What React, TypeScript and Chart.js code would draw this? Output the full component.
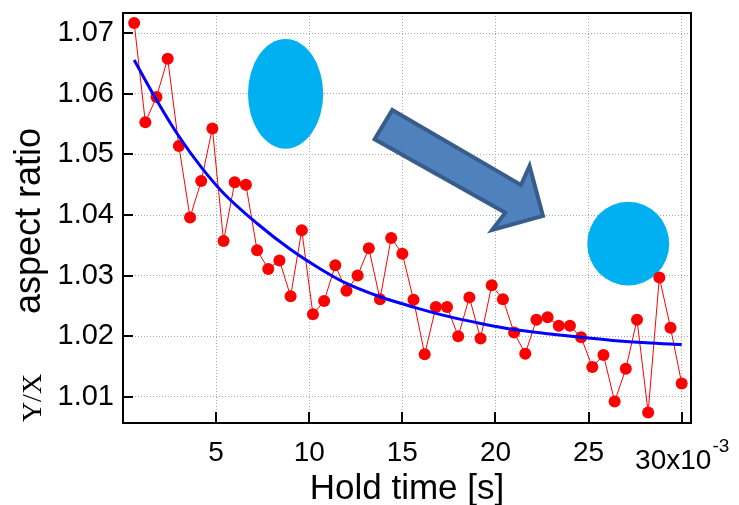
import React, { useEffect, useRef } from 'react';
import { Chart, registerables } from 'chart.js';

Chart.register(...registerables);

// ---------- data ----------
const holdTime = [
  0.6, 1.2, 1.8, 2.4, 3.0, 3.6, 4.2, 4.8, 5.4, 6.0,
  6.6, 7.2, 7.8, 8.4, 9.0, 9.6, 10.2, 10.8, 11.4, 12.0,
  12.6, 13.2, 13.8, 14.4, 15.0, 15.6, 16.2, 16.8, 17.4, 18.0,
  18.6, 19.2, 19.8, 20.4, 21.0, 21.6, 22.2, 22.8, 23.4, 24.0,
  24.6, 25.2, 25.8, 26.4, 27.0, 27.6, 28.2, 28.8, 29.4, 30.0,
];
const aspectRatio = [
  1.0717, 1.0553, 1.0595, 1.0658, 1.0514, 1.0396, 1.0456, 1.0543, 1.0357, 1.0454,
  1.045, 1.0342, 1.0311, 1.0325, 1.0266, 1.0375, 1.0236, 1.0258, 1.0317, 1.0275,
  1.03, 1.0345, 1.0261, 1.0362, 1.0336, 1.026, 1.017, 1.0248, 1.0248, 1.02,
  1.0264, 1.0196, 1.0284, 1.0261, 1.0206, 1.0171, 1.0227, 1.0231, 1.0217, 1.0217,
  1.0198, 1.0149, 1.0169, 1.0092, 1.0146, 1.0227, 1.0074, 1.0297, 1.0214, 1.0122,
];
const fitTime = [0.6, 1.8, 3.0, 4.2, 5.4, 7.2, 9.0, 10.6, 12.0, 13.8, 15.6, 17.4, 19.2, 21.0, 22.8, 24.6, 26.3, 28.1, 30.0];
const fitRatio = [1.0656, 1.0590, 1.0530, 1.0479, 1.0436, 1.0386, 1.0343, 1.0311, 1.0287, 1.0265, 1.0248, 1.0233, 1.0221, 1.0211, 1.0204, 1.0198, 1.0193, 1.0189, 1.0186];

const xTickValues = [5, 10, 15, 20, 25, 30];
const xTickLabels = ['5', '10', '15', '20', '25', ''];
const yTickValues = [1.01, 1.02, 1.03, 1.04, 1.05, 1.06, 1.07];
const yTickLabels = ['1.01', '1.02', '1.03', '1.04', '1.05', '1.06', '1.07'];
const lastXLabel = '30x10';
const lastXExponent = '-3';
const xTitle = 'Hold time [s]';
const yTitle = 'aspect ratio';
const yTitle2 = 'Y/X';

const X_MIN = 0;
const X_MAX = 30.5;
const Y_MIN = 1.00566;
const Y_MAX = 1.07335;

// ---------- decorations (data coordinates) ----------
const ellipses = [
  { cx: 8.73, cy: 1.06, rx: 2.02, ry: 0.00905 },
  { cx: 27.13, cy: 1.03527, rx: 2.2, ry: 0.0069 },
];
const arrowPts: [number, number][] = [
  [14.46, 1.05734],
  [21.37, 1.04495],
  [21.83, 1.04809],
  [22.55, 1.03984],
  [19.82, 1.03753],
  [20.53, 1.04038],
  [13.51, 1.0525],
];

const SANS = "'Liberation Sans', Arial, Helvetica, sans-serif";
const SERIF = "'Liberation Serif', 'Times New Roman', serif";

const decorPlugin = {
  id: 'decor',
  beforeDatasetsDraw(chart: any) {
    const { ctx, scales } = chart;
    const x = scales.x, y = scales.y;
    ctx.save();
    for (const e of ellipses) {
      const cx = x.getPixelForValue(e.cx);
      const cy = y.getPixelForValue(e.cy);
      const rx = Math.abs(x.getPixelForValue(e.cx + e.rx) - cx);
      const ry = Math.abs(y.getPixelForValue(e.cy + e.ry) - cy);
      ctx.beginPath();
      ctx.ellipse(cx, cy, rx, ry, 0, 0, Math.PI * 2);
      ctx.fillStyle = '#00B0F0';
      ctx.fill();
    }
    ctx.beginPath();
    arrowPts.forEach(([vx, vy], i) => {
      const px = x.getPixelForValue(vx);
      const py = y.getPixelForValue(vy);
      if (i === 0) ctx.moveTo(px, py);
      else ctx.lineTo(px, py);
    });
    ctx.closePath();
    ctx.fillStyle = '#4F81BD';
    ctx.fill();
    ctx.lineWidth = 4;
    ctx.lineJoin = 'miter';
    ctx.strokeStyle = '#385D8A';
    ctx.stroke();
    ctx.restore();
  },
  afterDraw(chart: any) {
    const { ctx, chartArea, scales } = chart;
    const x = scales.x, y = scales.y;
    const { left, right, top, bottom } = chartArea;
    ctx.save();
    // frame
    ctx.strokeStyle = '#000';
    ctx.lineWidth = 2;
    ctx.strokeRect(left, top, right - left, bottom - top);
    // inward ticks
    ctx.beginPath();
    for (const v of yTickValues) {
      const py = Math.round(y.getPixelForValue(v));
      ctx.moveTo(left, py);
      ctx.lineTo(left + 10, py);
    }
    for (const v of xTickValues) {
      const px = Math.round(x.getPixelForValue(v));
      ctx.moveTo(px, bottom);
      ctx.lineTo(px, bottom - 11);
    }
    ctx.stroke();

    ctx.fillStyle = '#000';
    // last x label with exponent
    ctx.font = `28px ${SANS}`;
    const w1 = ctx.measureText(lastXLabel).width;
    ctx.font = `19px ${SANS}`;
    const w2 = ctx.measureText(lastXExponent).width;
    const px30 = x.getPixelForValue(30);
    const startX = px30 - (w1 + w2) / 2;
    ctx.textAlign = 'left';
    ctx.textBaseline = 'alphabetic';
    ctx.font = `28px ${SANS}`;
    ctx.fillText(lastXLabel, startX, 469);
    ctx.font = `19px ${SANS}`;
    ctx.fillText(lastXExponent, startX + w1 + 1, 452);

    // x title
    ctx.font = `35px ${SANS}`;
    ctx.textAlign = 'center';
    ctx.fillText(xTitle, (left + right) / 2, 499);

    // y title
    ctx.save();
    ctx.translate(40, 221);
    ctx.rotate(-Math.PI / 2);
    ctx.font = `36px ${SANS}`;
    ctx.textAlign = 'center';
    ctx.fillText(yTitle, 0, 0);
    ctx.restore();

    ctx.save();
    ctx.translate(41, 398);
    ctx.rotate(-Math.PI / 2);
    ctx.font = `28px ${SERIF}`;
    ctx.textAlign = 'center';
    ctx.fillText(yTitle2, 0, 0);
    ctx.restore();

    ctx.restore();
  },
};

export default function App() {
  const canvasRef = useRef<HTMLCanvasElement | null>(null);

  useEffect(() => {
    const canvas = canvasRef.current;
    if (!canvas) return;
    const chart = new Chart(canvas, {
      type: 'line',
      data: {
        datasets: [
          {
            label: 'fit',
            data: fitTime.map((t, i) => ({ x: t, y: fitRatio[i] })),
            borderColor: '#0000FF',
            borderWidth: 3,
            pointRadius: 0,
            cubicInterpolationMode: 'monotone',
            fill: false,
            order: 0,
          },
          {
            label: 'aspect ratio',
            data: holdTime.map((t, i) => ({ x: t, y: aspectRatio[i] })),
            borderColor: '#FF0000',
            borderWidth: 1,
            pointRadius: 6,
            pointBackgroundColor: '#FF0000',
            pointBorderColor: '#FF0000',
            pointBorderWidth: 0,
            tension: 0,
            fill: false,
            order: 1,
          },
        ],
      },
      options: {
        responsive: false,
        maintainAspectRatio: false,
        animation: false,
        devicePixelRatio: 1,
        layout: { padding: { top: 13, right: 48, left: 0, bottom: 0 } },
        plugins: { legend: { display: false }, tooltip: { enabled: false } },
        scales: {
          x: {
            type: 'linear',
            min: X_MIN,
            max: X_MAX,
            afterFit: (s: any) => { s.height = 82; s.paddingLeft = 0; s.paddingRight = 0; },
            afterBuildTicks: (s: any) => { s.ticks = xTickValues.map((value) => ({ value })); },
            ticks: {
              autoSkip: false,
              maxRotation: 0,
              color: '#000',
              font: { family: SANS, size: 28 },
              padding: 13,
              callback: (_v: any, i: number) => xTickLabels[i],
            },
            grid: { color: '#a8a8a8', lineWidth: 1, drawTicks: false },
            border: { display: false, dash: [1, 2] },
          },
          y: {
            type: 'linear',
            min: Y_MIN,
            max: Y_MAX,
            afterFit: (s: any) => { s.width = 123; s.paddingTop = 0; s.paddingBottom = 0; },
            afterBuildTicks: (s: any) => { s.ticks = yTickValues.map((value) => ({ value })); },
            ticks: {
              autoSkip: false,
              color: '#000',
              font: { family: SANS, size: 29 },
              padding: 9,
              callback: (_v: any, i: number) => yTickLabels[i],
            },
            grid: { color: '#a8a8a8', lineWidth: 1, drawTicks: false },
            border: { display: false, dash: [1, 2] },
          },
        },
      },
      plugins: [decorPlugin],
    } as any);
    return () => chart.destroy();
  }, []);

  return (
    <div style={{ position: 'fixed', left: 0, top: 0, width: 739, height: 505, background: '#fff' }}>
      <canvas ref={canvasRef} width={739} height={505} style={{ display: 'block' }} />
    </div>
  );
}
